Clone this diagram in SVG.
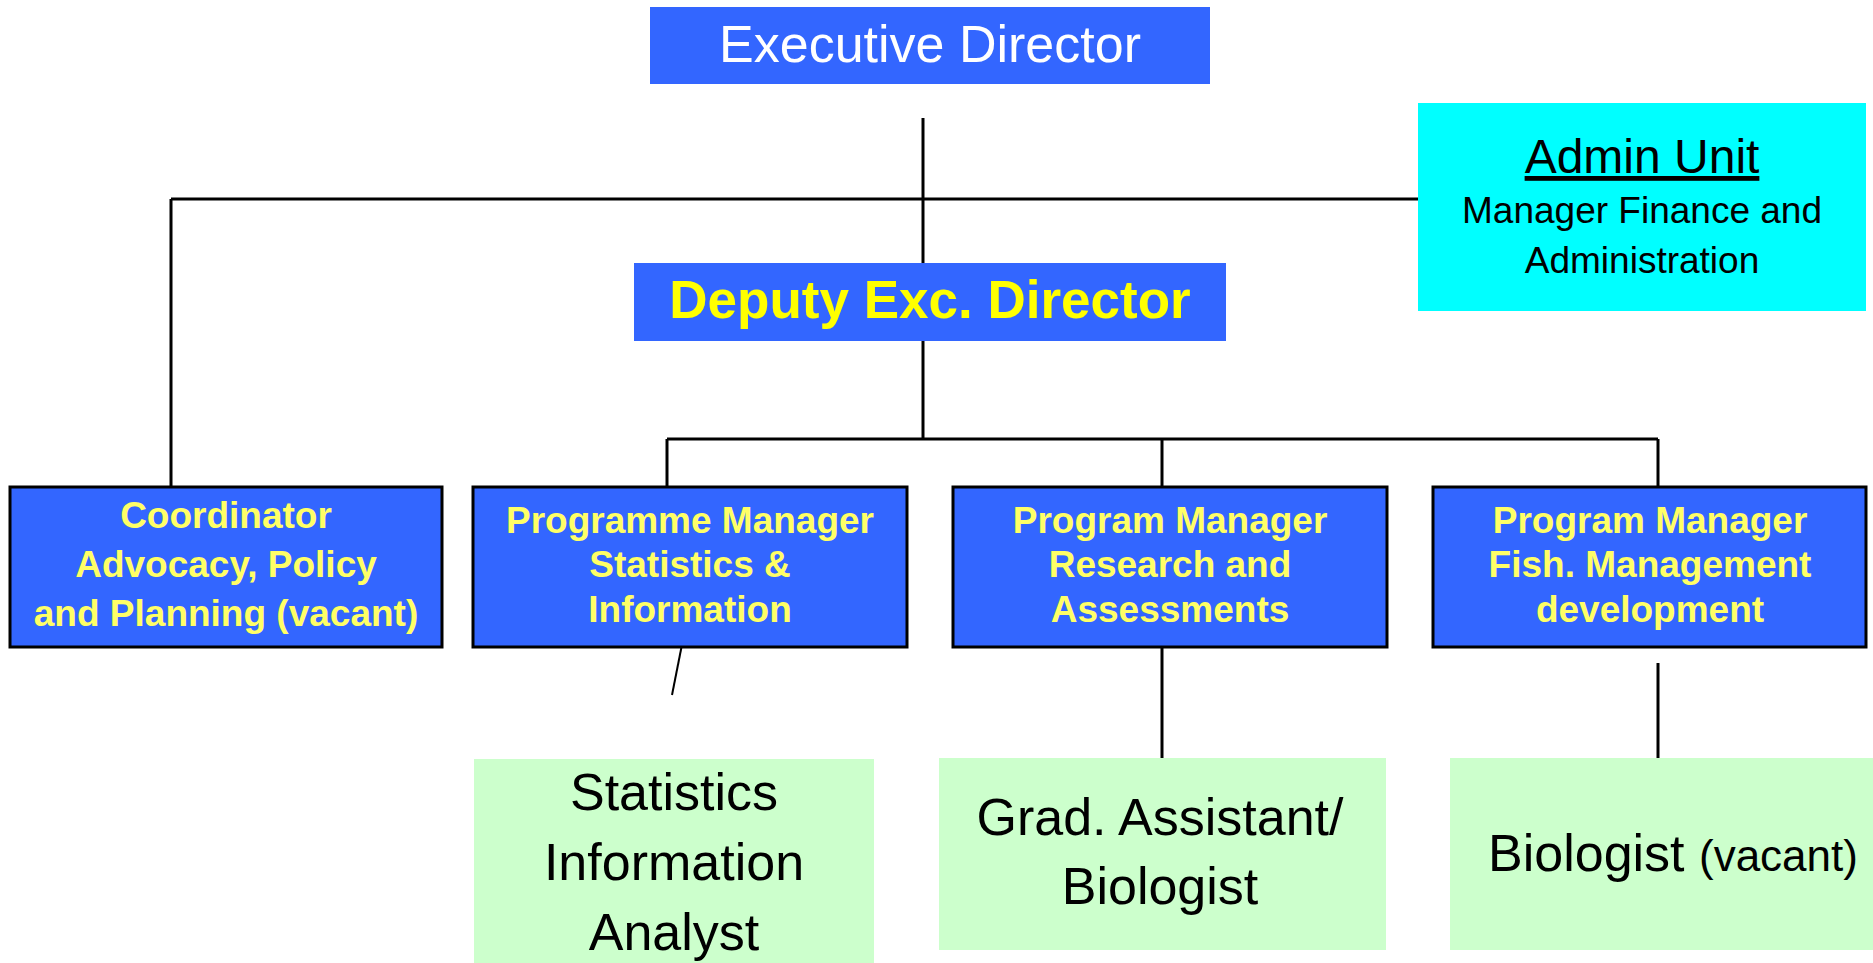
<svg xmlns="http://www.w3.org/2000/svg" width="1873" height="963" viewBox="0 0 1873 963">
<style>
.bx{fill:#3366FF}
.bxs{fill:#3366FF;stroke:#000;stroke-width:3}
.cy{fill:#00FFFF}
.gr{fill:#CCFFCC}
.ln{stroke:#000;stroke-width:3;fill:none}
.t{font-family:"Liberation Sans",Arial,sans-serif;text-anchor:middle}
.pm{font-weight:bold;font-size:37px;fill:#FFFF66}
.g{font-size:52px;fill:#000}
</style>
<rect width="1873" height="963" fill="#fff"/>
<g id="connectors">
<line class="ln" x1="923" y1="118" x2="923" y2="263"/>
<line class="ln" x1="171" y1="199" x2="1418" y2="199"/>
<line class="ln" x1="171" y1="199" x2="171" y2="487"/>
<line class="ln" x1="923" y1="341" x2="923" y2="439"/>
<line class="ln" x1="667" y1="439" x2="1658" y2="439"/>
<line class="ln" x1="667" y1="439" x2="667" y2="487"/>
<line class="ln" x1="1162" y1="439" x2="1162" y2="487"/>
<line class="ln" x1="1658" y1="439" x2="1658" y2="487"/>
<line class="ln" x1="681.5" y1="647" x2="672" y2="695" style="stroke-width:2"/>
<line class="ln" x1="1162" y1="647" x2="1162" y2="758"/>
<line class="ln" x1="1658" y1="663" x2="1658" y2="774"/>
</g>
<g id="exec">
<rect class="bx" x="650" y="7" width="560" height="77"/>
<text class="t" x="930" y="62" font-size="52" fill="#fff">Executive Director</text>
</g>
<g id="admin">
<rect class="cy" x="1418" y="103" width="448" height="208"/>
<text class="t" x="1642" y="173" font-size="48" fill="#000" text-decoration="underline">Admin Unit</text>
<text class="t" x="1642" y="223" font-size="37" fill="#000">Manager Finance and</text>
<text class="t" x="1642" y="273" font-size="37" fill="#000">Administration</text>
</g>
<g id="deputy">
<rect class="bx" x="634" y="263" width="592" height="78"/>
<text class="t" x="930" y="318" font-size="53" font-weight="bold" fill="#FFFF00">Deputy Exc. Director</text>
</g>
<g id="coordinator">
<rect class="bxs" x="10" y="487" width="432" height="160"/>
<text class="t pm" x="226" y="528">Coordinator</text>
<text class="t pm" x="226" y="577">Advocacy, Policy</text>
<text class="t pm" x="226" y="626">and Planning (vacant)</text>
</g>
<g id="pm-stats">
<rect class="bxs" x="473" y="487" width="434" height="160"/>
<text class="t pm" x="690" y="533">Programme Manager</text>
<text class="t pm" x="690" y="577">Statistics &amp;</text>
<text class="t pm" x="690" y="622">Information</text>
</g>
<g id="pm-research">
<rect class="bxs" x="953" y="487" width="434" height="160"/>
<text class="t pm" x="1170" y="533">Program Manager</text>
<text class="t pm" x="1170" y="577">Research and</text>
<text class="t pm" x="1170" y="622">Assessments</text>
</g>
<g id="pm-fish">
<rect class="bxs" x="1433" y="487" width="433" height="160"/>
<text class="t pm" x="1650" y="533">Program Manager</text>
<text class="t pm" x="1650" y="577">Fish. Management</text>
<text class="t pm" x="1650" y="622">development</text>
</g>
<g id="stats-analyst">
<rect class="gr" x="474" y="759" width="400" height="204"/>
<text class="t g" x="674" y="810">Statistics</text>
<text class="t g" x="674" y="880">Information</text>
<text class="t g" x="674" y="950">Analyst</text>
</g>
<g id="grad-assistant">
<rect class="gr" x="939" y="758" width="447" height="192"/>
<text class="t g" x="1160" y="835">Grad. Assistant/</text>
<text class="t g" x="1160" y="904">Biologist</text>
</g>
<g id="biologist">
<rect class="gr" x="1450" y="758" width="423" height="192"/>
<text font-family="Liberation Sans, Arial, sans-serif" x="1488" y="871" font-size="52" fill="#000">Biologist <tspan font-size="44">(vacant)</tspan></text>
</g>
</svg>
